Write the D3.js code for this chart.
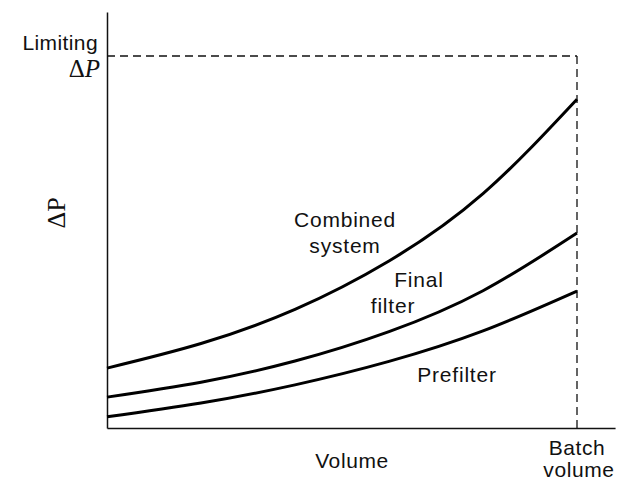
<!DOCTYPE html>
<html>
<head>
<meta charset="utf-8">
<script src="https://cdn.jsdelivr.net/npm/d3@7"></script>
<style>
  body { margin: 0; background: #fff; }
  text { font-family: "Liberation Sans", Arial, sans-serif; fill: #111; }
</style>
</head>
<body>
<script>
// volume as a fraction of the batch volume, pressure drop as a fraction of the limit
var volume = [0, 0.2, 0.4, 0.6, 0.8, 1];
var combined = [0.161, 0.227, 0.319, 0.449, 0.630, 0.884];
var finalFilter = [0.083, 0.123, 0.180, 0.259, 0.369, 0.524];
var prefilter = [0.030, 0.067, 0.116, 0.179, 0.261, 0.368];

var limitDP = 1;      // limiting pressure drop
var batchVol = 1;     // batch volume
var xAxisMax = 1.081;
var yAxisMax = 1.118;

var w = 627, h = 482;

var svg = d3.select("body")
  .append("svg")
  .attr("width", w)
  .attr("height", h);

var x = d3.scaleLinear().domain([0, 1]).range([107, 577]);
var y = d3.scaleLinear().domain([0, 1]).range([428, 56]);

// axis lines only, no ticks
svg.append("g")
  .attr("transform", "translate(0,428)")
  .call(d3.axisBottom(d3.scaleLinear().domain([0, xAxisMax]).range([x(0), x(xAxisMax)])).ticks(0).tickSizeOuter(0))
  .select(".domain").attr("stroke", "#111").attr("stroke-width", 1.5);

svg.append("g")
  .attr("transform", "translate(107,0)")
  .call(d3.axisLeft(d3.scaleLinear().domain([0, yAxisMax]).range([y(0), y(yAxisMax)])).ticks(0).tickSizeOuter(0))
  .select(".domain").attr("stroke", "#111").attr("stroke-width", 1.5);

// dashed limit lines
svg.append("line")
  .attr("x1", x(0)).attr("x2", x(batchVol))
  .attr("y1", y(limitDP)).attr("y2", y(limitDP))
  .attr("stroke", "#111").attr("stroke-width", 1.3)
  .attr("stroke-dasharray", "8,5");

svg.append("line")
  .attr("x1", x(batchVol)).attr("x2", x(batchVol))
  .attr("y1", y(limitDP)).attr("y2", y(0))
  .attr("stroke", "#111").attr("stroke-width", 1.3)
  .attr("stroke-dasharray", "8,5");

var line = d3.line()
  .x(function(d) { return x(d[0]); })
  .y(function(d) { return y(d[1]); })
  .curve(d3.curveNatural);

[combined, finalFilter, prefilter].forEach(function(s) {
  svg.append("path")
    .datum(volume.map(function(v, i) { return [v, s[i]]; }))
    .attr("d", line)
    .attr("fill", "none")
    .attr("stroke", "#000")
    .attr("stroke-width", 3);
});

// curve labels
var labels = [
  ["Combined", 345, 227], ["system", 345, 253],
  ["Final", 419, 287], ["filter", 393, 313],
  ["Prefilter", 457, 382]
];
svg.selectAll("text.lab")
  .data(labels)
  .enter()
  .append("text")
  .attr("class", "lab")
  .attr("x", function(d) { return d[1]; })
  .attr("y", function(d) { return d[2]; })
  .attr("text-anchor", "middle")
  .attr("font-size", "21px")
  .attr("letter-spacing", "0.8px")
  .text(function(d) { return d[0]; });

// axis text
svg.append("text").attr("x", 352).attr("y", 468).attr("text-anchor", "middle")
  .attr("font-size", "21px").attr("letter-spacing", "0.6px").text("Volume");
svg.append("text").attr("x", 577).attr("y", 455).attr("text-anchor", "middle")
  .attr("font-size", "21px").attr("letter-spacing", "0.6px").text("Batch");
svg.append("text").attr("x", 579).attr("y", 477).attr("text-anchor", "middle")
  .attr("font-size", "21px").attr("letter-spacing", "0.6px").text("volume");

svg.append("text").attr("x", 98).attr("y", 50).attr("text-anchor", "end")
  .attr("font-size", "21px").attr("letter-spacing", "0.4px").text("Limiting");

var lim = svg.append("text").attr("x", 100).attr("y", 77).attr("text-anchor", "end")
  .attr("font-size", "25px").style("font-family", "'Liberation Serif', 'DejaVu Serif', serif");
lim.append("tspan").text("\u0394");
lim.append("tspan").attr("font-style", "italic").text("P");

svg.append("text")
  .attr("transform", "translate(65,213) rotate(-90)")
  .attr("text-anchor", "middle")
  .attr("font-size", "26px")
  .style("font-family", "'Liberation Serif', 'DejaVu Serif', serif")
  .text("\u0394P");
</script>
</body>
</html>
